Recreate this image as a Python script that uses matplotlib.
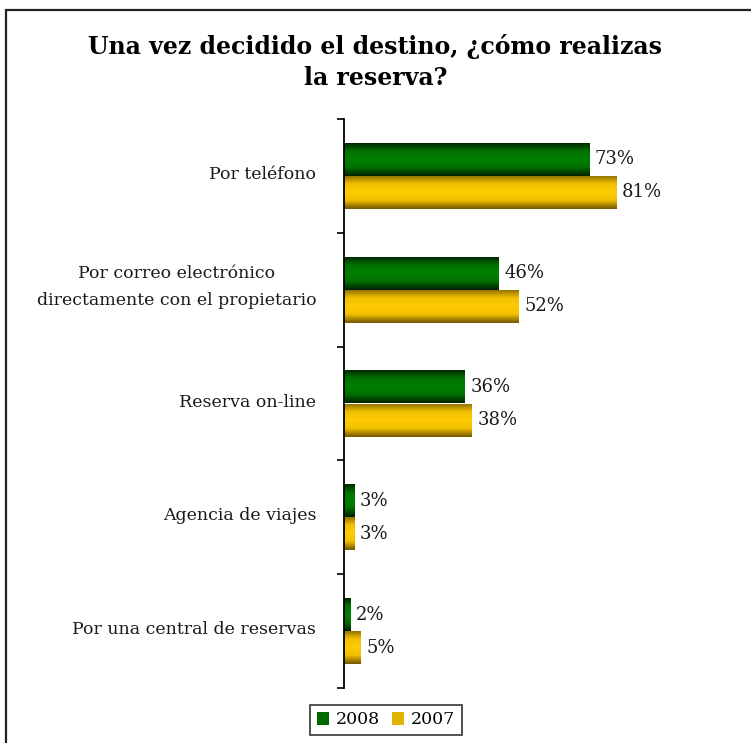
import numpy as np
import matplotlib
matplotlib.use('Agg')
import matplotlib.pyplot as plt
from matplotlib.colors import LinearSegmentedColormap
from matplotlib.patches import Rectangle, Patch

categories = ['Por teléfono',
              'Por correo electrónico\ndirectamente con el propietario',
              'Reserva on-line',
              'Agencia de viajes',
              'Por una central de reservas']
v2008 = [73, 46, 36, 3, 2]
v2007 = [81, 52, 38, 3, 5]
series = ['2008', '2007']

plt.rcParams['font.family'] = ['DejaVu Serif']

W, H = 751, 743
fig = plt.figure(figsize=(W / 100, H / 100), dpi=100)

# chart-area border (cut at right and bottom like the original)
fig.patches.append(Rectangle((6 / W, -0.1), 1.2, 1 - 10 / H + 0.1, transform=fig.transFigure,
                             fill=False, lw=1.6, ec='#222222'))

ax = fig.add_axes([344 / W, 1 - 688 / H, 336 / W, (688 - 119) / H])

cm_green = LinearSegmentedColormap.from_list('g', ['#001f00', '#007000', '#008000', '#007000', '#001f00'])
cm_gold = LinearSegmentedColormap.from_list('y', ['#8a6a00', '#f0c000', '#ffcc00', '#f0c000', '#735600'])
grad = np.linspace(0, 1, 64).reshape(-1, 1)

h = 0.29
for i, cat in enumerate(categories):
    for val, off, cm in [(v2008[i], 0.355, cm_green), (v2007[i], 0.645, cm_gold)]:
        y0 = i + off - h / 2
        bar = ax.barh(i + off, val, height=h, color='none', edgecolor='none')[0]
        im = ax.imshow(grad, cmap=cm, aspect='auto', extent=(0, val, y0 + h, y0),
                       interpolation='bicubic', zorder=2)
        im.set_clip_path(bar)
        ax.annotate(f'{val}%', (val, i + off), xytext=(4, 0), textcoords='offset points',
                    va='center', ha='left', fontsize=13, color='#1a1a1a')

ax.set_xlim(0, 100)
ax.set_ylim(len(categories), 0)
ax.set_yticks(range(len(categories) + 1))
ax.set_yticklabels([])
# two-line labels sit a bit higher
label_pos = [i + 0.47 - 0.055 * cat.count('\n') for i, cat in enumerate(categories)]
ax.set_yticks(label_pos, minor=True)
ax.set_yticklabels(categories, minor=True, fontsize=12.5, ha='right', multialignment='center',
                   color='#1a1a1a', linespacing=1.75)
ax.tick_params(axis='y', which='minor', length=0, pad=20)
ax.tick_params(axis='y', which='major', length=5, width=1.2, direction='out')
ax.set_xticks([])
for s in ['top', 'right', 'bottom']:
    ax.spines[s].set_visible(False)
ax.spines['left'].set_linewidth(1.3)

fig.text(0.5, 1 - 62 / H, 'Una vez decidido el destino, ¿cómo realizas\nla reserva?',
         ha='center', va='center', fontsize=17, fontweight='bold', linespacing=1.4)

handles = [Patch(facecolor='#006800', edgecolor='none'), Patch(facecolor='#e0b400', edgecolor='none')]
leg = fig.legend(handles, series, loc='center', bbox_to_anchor=(386 / W, 1 - 720 / H), ncol=2,
                 fontsize=12.5, frameon=True, fancybox=False, handlelength=0.7, handleheight=0.7,
                 handletextpad=0.4, columnspacing=0.7, borderpad=0.4)
leg.get_frame().set_edgecolor('black')
leg.get_frame().set_linewidth(1.2)

fig.savefig('out.png', dpi=100)
